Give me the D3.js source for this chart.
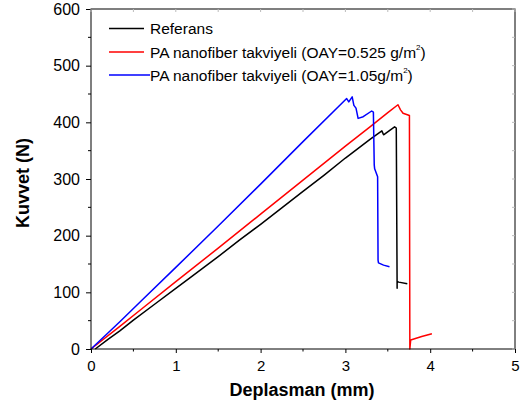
<!DOCTYPE html>
<html>
<head>
<meta charset="utf-8">
<script src="https://cdn.jsdelivr.net/npm/d3@7"></script>
<style>
  body { margin: 0; background: #fff; }
  svg { display: block; font-family: Arial, "Liberation Sans", sans-serif; }
</style>
</head>
<body>
<div id="chart"></div>
<script>
// Referans
const refX = [0.05, 0.2, 0.34, 0.5, 0.75, 1.0, 1.17, 1.5, 1.75, 2.0, 2.25, 2.5, 2.75, 3.0, 3.29, 3.43, 3.45, 3.58, 3.60, 3.61, 3.61, 3.63, 3.73];
const refY = [0, 17, 32, 51, 79, 107, 126, 163, 192, 220, 249, 278, 307, 337, 370, 385, 378, 392, 390, 107, 119, 118, 115];
// PA nanofiber takviyeli (OAY=0.525 g/m2)
const pa525X = [0, 0.34, 0.6, 1.0, 1.5, 2.0, 2.5, 3.0, 3.29, 3.5, 3.62, 3.65, 3.68, 3.755, 3.76, 3.77, 3.9, 4.02];
const pa525Y = [0, 40, 71, 119, 178, 238, 298, 358, 392, 417, 431, 422, 416, 412, 0, 16, 22, 27];
// PA nanofiber takviyeli (OAY=1.05g/m2)
const pa105X = [0, 0.34, 0.6, 1.0, 1.5, 2.0, 2.5, 3.015, 3.04, 3.08, 3.10, 3.125, 3.15, 3.21, 3.31, 3.33, 3.34, 3.345, 3.38, 3.385, 3.39, 3.45, 3.52];
const pa105Y = [0, 48, 86, 144, 217, 291, 366, 442, 436, 445, 430, 425, 407, 410, 420, 418, 325, 318, 304, 157, 152, 148, 145];

const xTicks = [0, 1, 2, 3, 4, 5];
const yTicks = [0, 100, 200, 300, 400, 500, 600];

const seriesNames = ['Referans', 'PA nanofiber takviyeli (OAY=0.525 g/m', 'PA nanofiber takviyeli (OAY=1.05g/m'];
const seriesColors = ['#000000', '#ff0000', '#0000ff'];

const W = 520, H = 409;
const margin = { top: 9, right: 5, bottom: 60, left: 91 };
const width = W - margin.left - margin.right;
const height = H - margin.top - margin.bottom;

const svg = d3.select('#chart').append('svg')
  .attr('width', W).attr('height', H);
const g = svg.append('g')
  .attr('transform', 'translate(' + margin.left + ',' + margin.top + ')');

const x = d3.scaleLinear().domain([0, 5]).range([0, width]);
const y = d3.scaleLinear().domain([0, 600]).range([height, 0]);

// series lines
const series = [
  { xs: refX, ys: refY },
  { xs: pa525X, ys: pa525Y },
  { xs: pa105X, ys: pa105Y }
];
const line = d3.line().x(d => x(d[0])).y(d => y(d[1]));
series.forEach((s, i) => {
  g.append('path')
    .datum(s.xs.map((v, j) => [v, s.ys[j]]))
    .attr('fill', 'none')
    .attr('stroke', seriesColors[i])
    .attr('stroke-width', 1.5)
    .attr('stroke-linejoin', 'round')
    .attr('d', line);
});

// frame
g.append('rect')
  .attr('width', width).attr('height', height)
  .attr('fill', 'none').attr('stroke', '#000').attr('stroke-width', 1);

// bottom axis
const xMinor = d3.range(0.5, 5, 1);
const xAxis = g.append('g').attr('transform', 'translate(0,' + height + ')')
  .call(d3.axisBottom(x).tickValues(xTicks).tickFormat(d3.format('d')).tickSize(4).tickPadding(7));
xAxis.append('g').selectAll('line').data(xMinor).join('line')
  .attr('x1', d => x(d)).attr('x2', d => x(d)).attr('y1', 0).attr('y2', 2.5)
  .attr('stroke', '#000');

// left axis
const yMinor = d3.range(50, 600, 100);
const yAxis = g.append('g')
  .call(d3.axisLeft(y).tickValues(yTicks).tickSize(5).tickPadding(6));
yAxis.append('g').selectAll('line').data(yMinor).join('line')
  .attr('y1', d => y(d)).attr('y2', d => y(d)).attr('x1', 0).attr('x2', -3)
  .attr('stroke', '#000');

[xAxis, yAxis].forEach(a => {
  a.select('.domain').remove();
  a.selectAll('text').attr('fill', '#000')
    .style('font-family', 'Arial, "Liberation Sans", sans-serif');
});
xAxis.selectAll('text').style('font-size', '15px');
yAxis.selectAll('text').style('font-size', '16px');

// faint inner ticks on top and right
g.append('g').selectAll('line').data(xTicks.concat(xMinor)).join('line')
  .attr('x1', d => x(d)).attr('x2', d => x(d)).attr('y1', 0).attr('y2', 3)
  .attr('stroke', '#bbb');
g.append('g').selectAll('line').data(yTicks.concat(yMinor)).join('line')
  .attr('y1', d => y(d)).attr('y2', d => y(d)).attr('x1', width).attr('x2', width - 3)
  .attr('stroke', '#bbb');

// axis titles
svg.append('text')
  .attr('x', 302).attr('y', 396)
  .attr('text-anchor', 'middle')
  .style('font-size', '18px').style('font-weight', 'bold')
  .text('Deplasman (mm)');
svg.append('text')
  .attr('transform', 'translate(29,183) rotate(-90)')
  .attr('text-anchor', 'middle')
  .style('font-size', '18px').style('font-weight', 'bold')
  .text('Kuvvet (N)');

// legend
const legend = svg.append('g');
const legendY = [28.5, 52, 75];
seriesNames.forEach((name, i) => {
  legend.append('line')
    .attr('x1', 109).attr('x2', i === 2 ? 150 : 144)
    .attr('y1', legendY[i]).attr('y2', legendY[i])
    .attr('stroke', seriesColors[i]).attr('stroke-width', 1.5);
  const t = legend.append('text')
    .attr('x', 150).attr('y', legendY[i] + 5.5)
    .style('font-size', '15.5px')
    .text(name);
  if (i > 0) {
    t.append('tspan').attr('dy', -8).style('font-size', '8px').text('2');
    t.append('tspan').attr('dy', 8).text(')');
  }
});
</script>
</body>
</html>
